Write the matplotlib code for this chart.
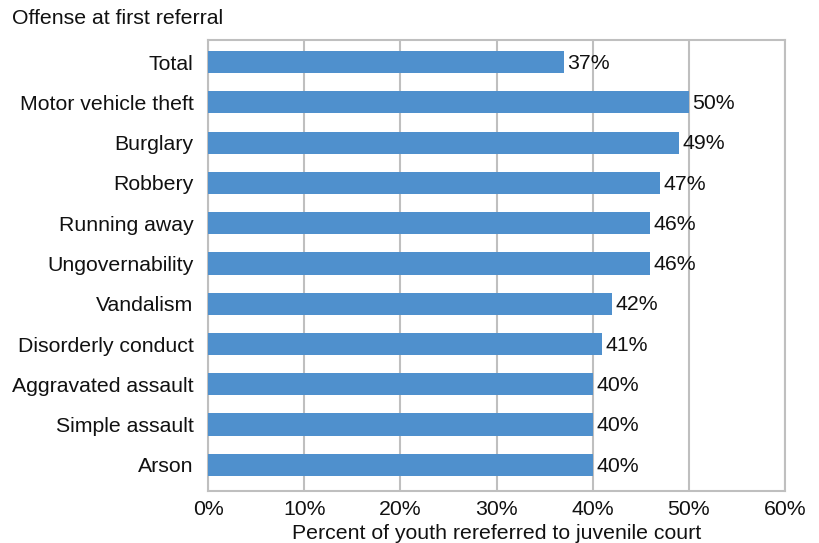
import matplotlib
matplotlib.use("Agg")
import matplotlib.pyplot as plt
from matplotlib.ticker import FuncFormatter

categories = ["Total", "Motor vehicle theft", "Burglary", "Robbery", "Running away",
              "Ungovernability", "Vandalism", "Disorderly conduct", "Aggravated assault",
              "Simple assault", "Arson"]
values = [37, 50, 49, 47, 46, 46, 42, 41, 40, 40, 40]
xticks = [0, 10, 20, 30, 40, 50, 60]

plt.rcParams['font.family'] = ['Liberation Sans', 'DejaVu Sans']
fs = 15.3

fig = plt.figure(figsize=(8.19, 5.43), dpi=100)
ax = fig.add_axes([208/819, 1-491/543, (785-208)/819, (491-40)/543])

pos = list(range(len(categories)))
ax.barh(pos, values, height=0.55, color="#4F90CD", zorder=3)
for p, v in zip(pos, values):
    ax.text(v + 0.35, p + 0.03, f"{v}%", va="center", ha="left", fontsize=fs, color="#111111", zorder=4)

ax.set_xlim(0, 60)
ax.set_ylim(10.65, -0.55)
ax.set_xticks(xticks)
ax.xaxis.set_major_formatter(FuncFormatter(lambda x, _: f"{int(x)}%"))
ax.set_yticks(pos)
ax.set_yticklabels(categories)
ax.tick_params(axis="both", length=0, labelsize=fs, colors="#111111")
ax.tick_params(axis="y", pad=10.5)
ax.tick_params(axis="x", pad=6.5)
ax.grid(axis="x", color="#BFBFBF", linewidth=1.5, zorder=0)
for s in ax.spines.values():
    s.set_color("#BFBFBF")
    s.set_linewidth(1.5)
ax.set_xlabel("Percent of youth rereferred to juvenile court", fontsize=fs, color="#111111", labelpad=3.5)
fig.text(12/819, 1-19/543, "Offense at first referral", fontsize=fs, ha="left", va="center", color="#111111")

fig.savefig("out.png", dpi=100)
